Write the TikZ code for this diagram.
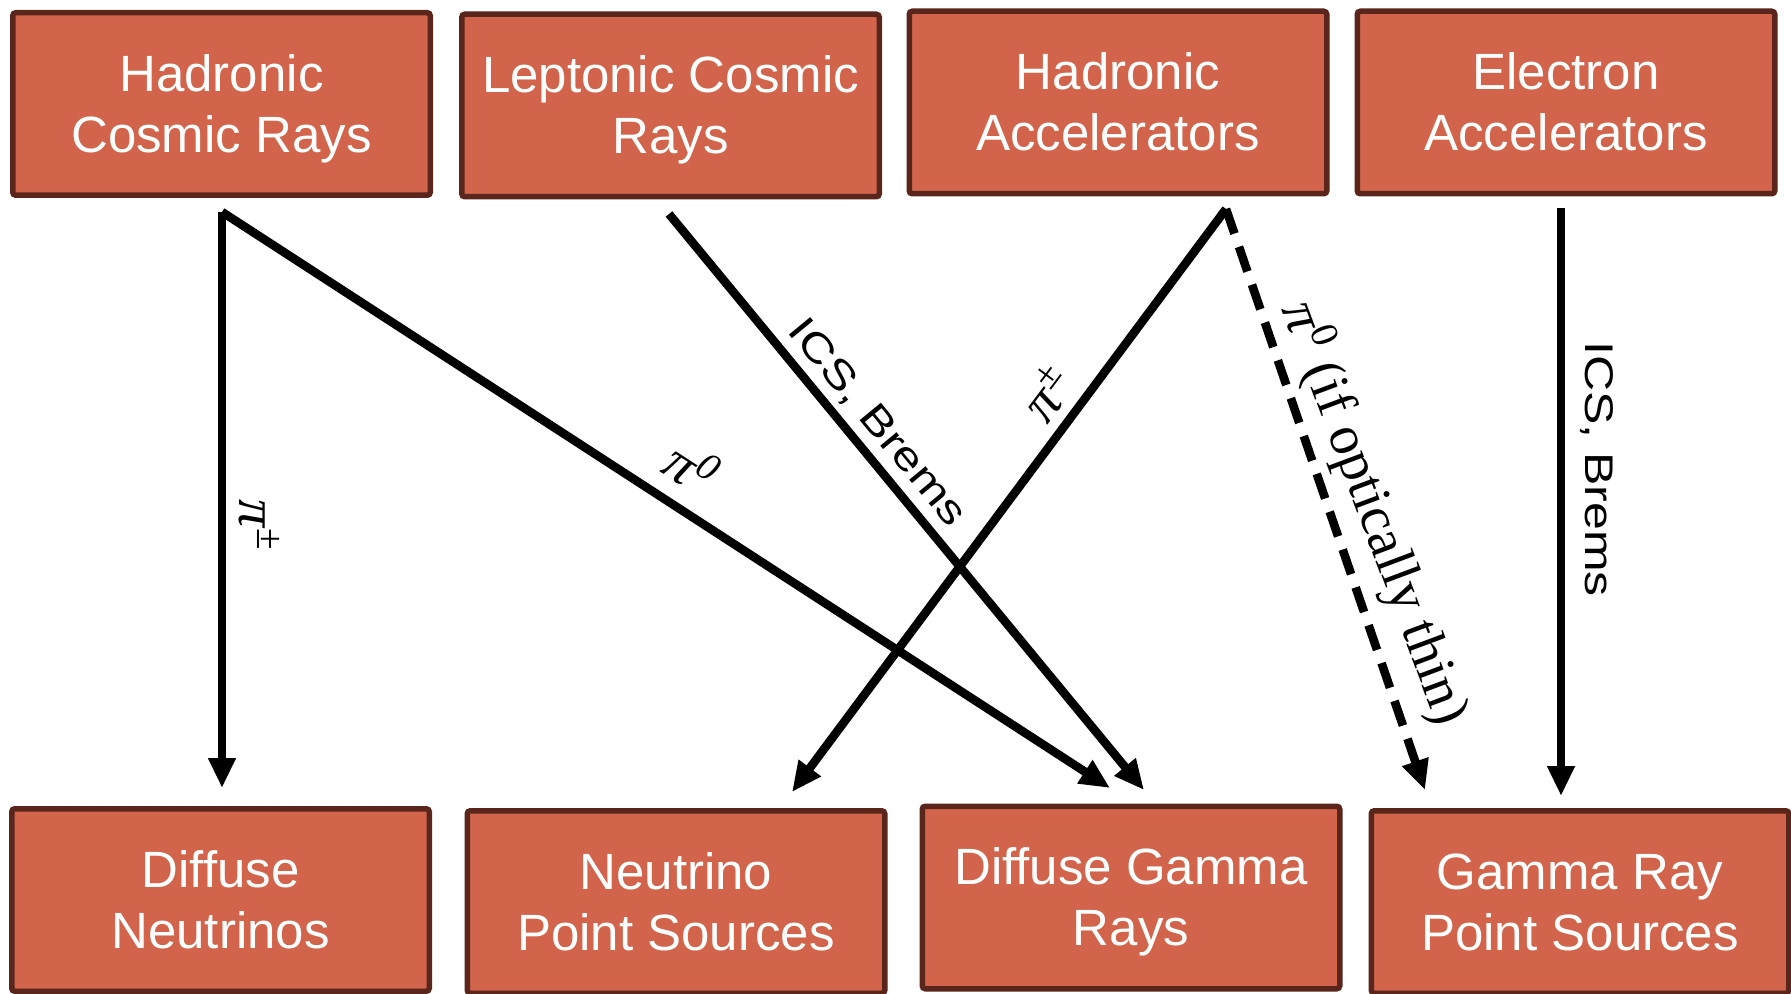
\documentclass[tikz,border=0pt]{standalone}
\usepackage{fontspec}
\usepackage{graphicx}
\setmainfont{Liberation Serif}
\newfontfamily\boxfont{Liberation Sans}
\usetikzlibrary{arrows.meta}
\definecolor{boxfill}{HTML}{D1644B}
\definecolor{boxline}{HTML}{5A261C}
\newcommand{\twolines}[2]{\begin{tabular}[t]{@{}c@{}}#1\\#2\end{tabular}}
\begin{document}
\begin{tikzpicture}[x=0.5pt,y=-0.5pt,
  box/.style={draw=boxline, fill=boxfill, line width=2.75pt, rounded corners=1.5pt,
    minimum width=208.75pt, minimum height=91.25pt, inner sep=0pt},
  boxtext/.style={anchor=base, inner sep=0pt, text=white,
    font=\boxfont\fontsize{25.5}{30.5}\selectfont},
  conn/.style={line width=4.3pt, -{Triangle[length=15pt,width=13pt]}},
  dconn/.style={conn, dash pattern=on 13pt off 7pt},
  serlabel/.style={inner sep=0pt, font=\fontsize{28}{32}\selectfont},
  sanslabel/.style={inner sep=0pt, font=\boxfont\fontsize{20}{24}\selectfont}]
\useasboundingbox (0,0) rectangle (1791,994);
% boxes
\node[box] (hcr)  at (221.5,104)  {};
\node[box] (lcr)  at (670.5,105.5){};
\node[box] (hacc) at (1118,102.5) {};
\node[box] (eacc) at (1566,102.5) {};
\node[box] (dn)   at (220.5,900)  {};
\node[box] (nps)  at (676,902)    {};
\node[box] (dgr)  at (1131,897.5) {};
\node[box] (gps)  at (1580,902)   {};
% box texts
\node[boxtext] (hcr-t)  at ([yshift=6.4pt]hcr.center)  {\twolines{Hadronic}{Cosmic Rays}};
\node[boxtext] (lcr-t)  at ([yshift=6.4pt]lcr.center)  {\twolines{Leptonic Cosmic}{Rays}};
\node[boxtext] (hacc-t) at ([yshift=6.4pt]hacc.center) {\twolines{Hadronic}{Accelerators}};
\node[boxtext] (eacc-t) at ([yshift=6.4pt]eacc.center) {\twolines{Electron}{Accelerators}};
\node[boxtext] (dn-t)   at ([yshift=6.4pt]dn.center)   {\twolines{Diffuse}{Neutrinos}};
\node[boxtext] (nps-t)  at ([yshift=6.4pt]nps.center)  {\twolines{Neutrino}{Point Sources}};
\node[boxtext] (dgr-t)  at ([yshift=6.4pt]dgr.center)  {\twolines{Diffuse Gamma}{Rays}};
\node[boxtext] (gps-t)  at ([yshift=6.4pt]gps.center)  {\twolines{Gamma Ray}{Point Sources}};
% connector end points
\coordinate (s1) at (222,212);
\coordinate (s2) at (669,214);
\coordinate (s3) at (1226,209);
\coordinate (s4) at (1561,208);
\coordinate (e1) at (222,788);
\coordinate (e2) at (1110,788);
\coordinate (e3) at (1144,790);
\coordinate (e4) at (792,792);
\coordinate (e5) at (1425,790);
\coordinate (e6) at (1561,796);
% connectors
\draw[conn] (s1) -- (e1);
\draw[conn] (s1) -- (e2);
\draw[conn] (s2) -- (e3);
\draw[conn] (s3) -- (e4);
\draw[dconn] (s3) -- (e5);
\draw[conn] (s4) -- (e6);
% labels
\node[serlabel, rotate=-90] (l1) at (259,525) {\textit{π}\textsuperscript{±}};
\node[serlabel, rotate=-33] (l2) at (692,467) {\textit{π}\textsuperscript{\textit{0}}};
\node[sanslabel, rotate=-50.5] (l3) at (877,423) {\scalebox{1.25}[1]{ICS, Brems}};
\node[serlabel, rotate=53.3] (l4) at (1047,393) {\textit{π}\textsuperscript{±}};
\node[serlabel, rotate=-69.5] (l5) at (1375,513) {\textit{π}\textsuperscript{0} (if optically thin)};
\node[sanslabel, rotate=-90] (l6) at (1597,469) {\scalebox{1.25}[1]{ICS, Brems}};
\end{tikzpicture}
\end{document}
